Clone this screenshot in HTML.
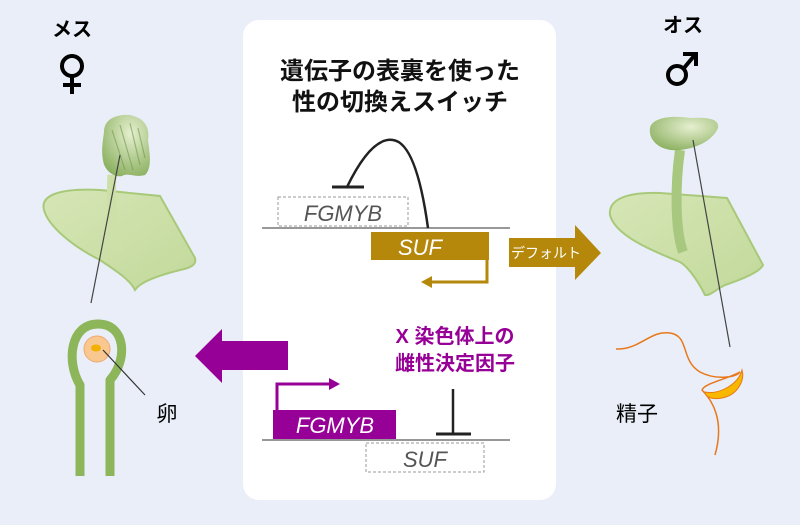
<!DOCTYPE html>
<html><head><meta charset="utf-8"><style>
body{margin:0;width:800px;height:525px;background:#e9eef8;overflow:hidden}
svg{display:block}
</style></head><body>
<svg width="800" height="525" viewBox="0 0 800 525" font-family="'Liberation Sans','Noto Sans CJK JP',sans-serif">
<defs>
<linearGradient id="th" x1="0" y1="0" x2="1" y2="1"><stop offset="0" stop-color="#d6e6b6"/><stop offset="1" stop-color="#c2d99a"/></linearGradient>
<radialGradient id="cap" cx="0.6" cy="0.3" r="0.8"><stop offset="0" stop-color="#e6efd0"/><stop offset="1" stop-color="#86ad5a"/></radialGradient>
</defs>
<rect x="243" y="20" width="313" height="480" rx="16" fill="#fff"/>
<text x="400" y="79" font-size="24" font-weight="bold" text-anchor="middle" fill="#111">遺伝子の表裏を使った</text>
<text x="400" y="110" font-size="24" font-weight="bold" text-anchor="middle" fill="#111">性の切換えスイッチ</text>
<text x="72" y="36" font-size="20" font-weight="bold" text-anchor="middle">メス</text>
<circle cx="72" cy="66" r="10" fill="none" stroke="#000" stroke-width="4"/>
<line x1="72" y1="76" x2="72" y2="94" stroke="#000" stroke-width="4"/>
<line x1="63" y1="85" x2="81" y2="85" stroke="#000" stroke-width="4"/>
<text x="683" y="32" font-size="20" font-weight="bold" text-anchor="middle">オス</text>
<circle cx="677" cy="75" r="9" fill="none" stroke="#000" stroke-width="4"/>
<line x1="684" y1="68" x2="694" y2="56" stroke="#000" stroke-width="4"/>
<path d="M683 54 H696 V66" fill="none" stroke="#000" stroke-width="4"/>
<!-- top gene -->
<line x1="262" y1="228" x2="510" y2="228" stroke="#777" stroke-width="1.5"/>
<rect x="278" y="197" width="130" height="29" fill="none" stroke="#999" stroke-dasharray="3,2"/>
<text x="343" y="221" font-size="22" font-style="italic" text-anchor="middle" fill="#555">FGMYB</text>
<path d="M347 187 C365 150 380 138 393 140 C408 142 420 170 428 228" fill="none" stroke="#222" stroke-width="2.5"/>
<line x1="332" y1="187" x2="364" y2="187" stroke="#222" stroke-width="3"/>
<rect x="371" y="232" width="118" height="28" fill="#b5880b"/>
<text x="420" y="255" font-size="22" font-style="italic" text-anchor="middle" fill="#fff">SUF</text>
<path d="M487 260 V282 H430" fill="none" stroke="#b5880b" stroke-width="3"/>
<path d="M421 282 L432 276 L432 288 Z" fill="#b5880b"/>
<path d="M509 238 H575 V225 L601 253 L575 280 V267 H509 Z" fill="#b5880b"/>
<text x="546" y="258" font-size="14" text-anchor="middle" fill="#fff">デフォルト</text>
<!-- bottom gene -->
<path d="M195 356 L222 329 V341 H288 V370 H222 V383 Z" fill="#960096"/>
<text x="455" y="343" font-size="20" font-weight="bold" text-anchor="middle" fill="#960096">X 染色体上の</text>
<text x="455" y="370" font-size="20" font-weight="bold" text-anchor="middle" fill="#960096">雌性決定因子</text>
<rect x="273" y="410" width="123" height="29" fill="#960096"/>
<text x="335" y="433" font-size="22" font-style="italic" text-anchor="middle" fill="#fff">FGMYB</text>
<path d="M277 410 V384 H330" fill="none" stroke="#960096" stroke-width="3"/>
<path d="M340 384 L329 378 L329 390 Z" fill="#960096"/>
<line x1="262" y1="440" x2="510" y2="440" stroke="#777" stroke-width="1.5"/>
<line x1="453" y1="389" x2="453" y2="434" stroke="#222" stroke-width="2.5"/>
<line x1="436" y1="434" x2="471" y2="434" stroke="#222" stroke-width="3"/>
<rect x="366" y="443" width="118" height="29" fill="none" stroke="#999" stroke-dasharray="3,2"/>
<text x="425" y="467" font-size="22" font-style="italic" text-anchor="middle" fill="#555">SUF</text>
<!-- female plant -->
<path d="M44 210 C40 195 60 188 100 190 L160 196 L195 258 C197 265 190 268 180 270 C160 275 140 282 135 290 C130 280 118 272 100 260 C70 245 48 225 44 210 Z" fill="url(#th)" stroke="#a9c97a" stroke-width="2"/>
<path d="M112 175 C110 200 114 230 118 252" stroke="#cde0a8" stroke-width="9" fill="none"/>
<path d="M104 132 C104 118 118 114 130 115 C145 118 150 128 148 140 C150 155 152 168 145 175 C135 178 128 172 122 176 C114 178 104 170 103 160 C101 150 103 140 104 132 Z" fill="url(#cap)"/>
<path d="M112 130 L125 170 M120 125 L133 170 M130 123 L140 165 M138 128 L145 158" stroke="#6f9a48" stroke-width="1.2" opacity="0.6"/>
<line x1="120" y1="155" x2="91" y2="303" stroke="#444" stroke-width="1.2"/>
<path d="M80 476 V385 C66 362 70 324 98 324 C126 324 128 360 110 380 V476" fill="none" stroke="#8db55a" stroke-width="9" stroke-linejoin="round"/>
<circle cx="97" cy="349" r="13" fill="#f8c890" stroke="#f0a870"/>
<ellipse cx="96" cy="348" rx="5" ry="3.5" fill="#f4b000"/>
<line x1="103" y1="350" x2="145" y2="395" stroke="#333" stroke-width="1.2"/>
<text x="167" y="421" font-size="21" text-anchor="middle">卵</text>
<!-- male plant -->
<path d="M610 215 C608 198 630 192 660 193 L727 198 L763 265 C760 272 740 280 725 285 C715 290 710 296 705 295 C700 285 690 268 680 262 C650 250 615 235 610 215 Z" fill="url(#th)" stroke="#a9c97a" stroke-width="2"/>
<path d="M680 150 C675 185 675 230 683 252" stroke="#a8c880" stroke-width="10" fill="none"/>
<path d="M650 128 C652 118 670 115 690 118 C705 117 720 118 718 128 C714 138 700 148 680 150 C660 152 648 140 650 128 Z" fill="url(#cap)"/>
<line x1="693" y1="140" x2="730" y2="347" stroke="#444" stroke-width="1.2"/>
<path d="M616 349 C640 350 650 330 670 333 C690 336 680 360 700 372 C715 380 735 378 740 372 C725 380 705 383 702 390 C712 400 725 420 715 455" fill="none" stroke="#e8781a" stroke-width="1.5"/>
<path d="M705 392 C718 395 738 385 742 370 C745 380 738 395 722 398 C712 400 705 397 705 392 Z" fill="#f8b800" stroke="#e8781a"/>
<text x="637" y="421" font-size="21" text-anchor="middle">精子</text>
</svg>
</body></html>
